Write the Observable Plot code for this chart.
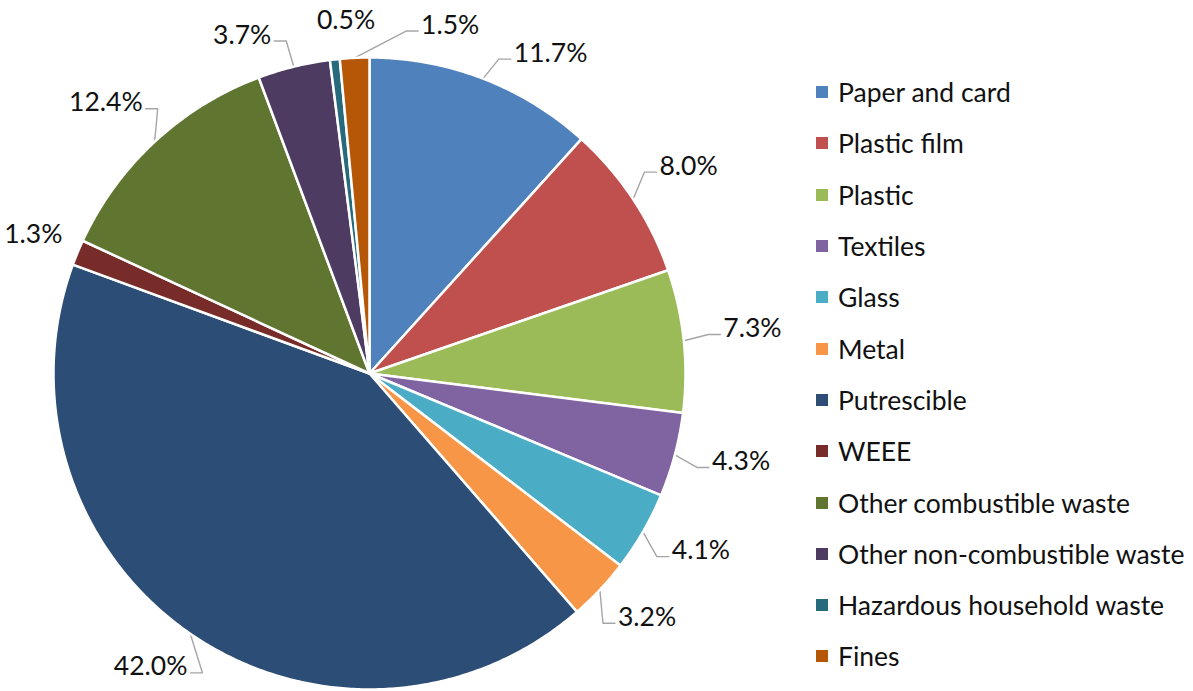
<!DOCTYPE html>
<html><head><meta charset="utf-8">
<script src="https://cdn.jsdelivr.net/npm/d3@7"></script>
<script src="https://cdn.jsdelivr.net/npm/@observablehq/plot@0.6"></script>
<style>
body{margin:0;background:#fff;font-family:Lato, "Open Sans", sans-serif;}
#wrap{position:relative;width:1193px;height:691px;overflow:hidden;}
#chart{position:absolute;left:0;top:0;}
#legend{position:absolute;left:816px;top:66.5px;}
.item{display:flex;align-items:center;height:51.3px;font-size:26.5px;color:#111;white-space:nowrap;}
.sw{width:12px;height:12px;margin-right:10px;flex:none;}
</style></head><body>
<div id="wrap"><div id="chart"></div><div id="legend"></div></div>
<script>
// ---- data ----
const categories = ["Paper and card","Plastic film","Plastic","Textiles","Glass","Metal","Putrescible","WEEE","Other combustible waste","Other non-combustible waste","Hazardous household waste","Fines"];
const shares = [11.7, 8.0, 7.3, 4.3, 4.1, 3.2, 42.0, 1.3, 12.4, 3.7, 0.5, 1.5];
const colors = ["#4F81BD","#C0504D","#9BBB59","#8064A2","#4BACC6","#F79646","#2C4D75","#772C2A","#5F7530","#4D3B62","#276A7C","#B65708"];

// ---- layout ----
const W = 1193, H = 691, R = 316, CX = 369, CY = 373;
const FONT = 26.5, FONTFAM = "Lato";
const total = d3.sum(shares);

// slice polygons in unit coordinates (clockwise from 12 o'clock)
const slicePts = [];
const mids = [];
let cum = 0;
categories.forEach((name, i) => {
  const a0 = cum / total * 2 * Math.PI;
  cum += shares[i];
  const a1 = cum / total * 2 * Math.PI;
  mids.push((a0 + a1) / 2);
  slicePts.push({name, x: 0, y: 0});
  const n = Math.max(2, Math.ceil((a1 - a0) / (Math.PI / 360)));
  for (let k = 0; k <= n; k++) {
    const a = a0 + (a1 - a0) * k / n;
    slicePts.push({name, x: Math.sin(a), y: Math.cos(a)});
  }
  slicePts.push({name, x: 0, y: 0});
});

// label placement (pixels relative to centre, y up)
const ctx = document.createElement("canvas").getContext("2d");
ctx.font = `${FONT}px ${FONTFAM}`;
const labels = categories.map((name, i) => ({
  name, text: shares[i].toFixed(1) + "%", mid: mids[i], ang: mids[i],
  hw: ctx.measureText(shares[i].toFixed(1) + "%").width / 2, hh: FONT * 0.45
}));
function place(l) {
  const s = Math.sin(l.ang), c = Math.cos(l.ang);
  let d = 24 + 16 * Math.abs(s);
  for (let k = 0; k < 60; k++) {
    l.px = (R + d) * s + l.hw * s;
    l.py = (R + d) * c + l.hh * c + 7 * Math.abs(s);
    const left = CX + l.px - l.hw, right = CX + l.px + l.hw;
    if (left >= 3 && right <= W - 3) break;
    d -= 1;
  }
}
labels.forEach(place);
function overlap(a, b) {
  return Math.abs(a.px - b.px) < a.hw + b.hw + 45 && Math.abs(a.py - b.py) < a.hh + b.hh + 4;
}
for (let it = 0; it < 1500; it++) {
  let moved = false;
  for (let i = 0; i < labels.length; i++) {
    const a = labels[i], b = labels[(i + 1) % labels.length];
    if (overlap(a, b)) {
      a.ang -= 0.0015; b.ang += 0.003; place(a); place(b); moved = true;
    }
  }
  if (!moved) break;
}

// leader lines (skipped when the label sits right at its slice)
const leaderPts = [];
labels.forEach(l => {
  const ax = R * Math.sin(l.mid), ay = R * Math.cos(l.mid);
  const right = l.px >= 0;
  const nearX = right ? l.px - l.hw - 3 : l.px + l.hw + 3;
  const ly = l.py - 6;
  const above = Math.abs(Math.sin(l.mid)) < 0.2 && ax > l.px - l.hw && ax < l.px + l.hw;
  if (above || Math.hypot(ax - nearX, ay - ly) < 20) return;
  const bx = right ? nearX - 12 : nearX + 12;
  [[ax, ay], [bx, ly], [nearX, ly]].forEach(([x, y]) => leaderPts.push({name: l.name, x: x / R, y: y / R}));
});
const labelPts = labels.map(l => ({name: l.name, text: l.text, x: l.px / R, y: l.py / R}));

const plot = Plot.plot({
  width: W, height: H, margin: 0,
  x: {domain: [-CX / R, (W - CX) / R], axis: null},
  y: {domain: [-(H - CY) / R, CY / R], axis: null},
  color: {domain: categories, range: colors},
  style: {fontFamily: FONTFAM, background: "#fff"},
  marks: [
    Plot.line(leaderPts, {x: "x", y: "y", z: "name", stroke: "#a5a5a5", strokeWidth: 1.4, curve: "linear"}),
    Plot.line(slicePts, {x: "x", y: "y", z: "name", fill: "name", stroke: "#fff", strokeWidth: 2.5, strokeLinejoin: "round", curve: "linear"}),
    Plot.text(labelPts, {x: "x", y: "y", text: "text", fontSize: FONT, fill: "#111", textAnchor: "middle"})
  ]
});
document.getElementById("chart").appendChild(plot);

const leg = document.getElementById("legend");
categories.forEach((c, i) => {
  const it = document.createElement("div");
  it.className = "item";
  const sw = document.createElement("span");
  sw.className = "sw"; sw.style.background = colors[i];
  it.appendChild(sw);
  it.appendChild(document.createTextNode(c));
  leg.appendChild(it);
});
</script>
</body></html>
